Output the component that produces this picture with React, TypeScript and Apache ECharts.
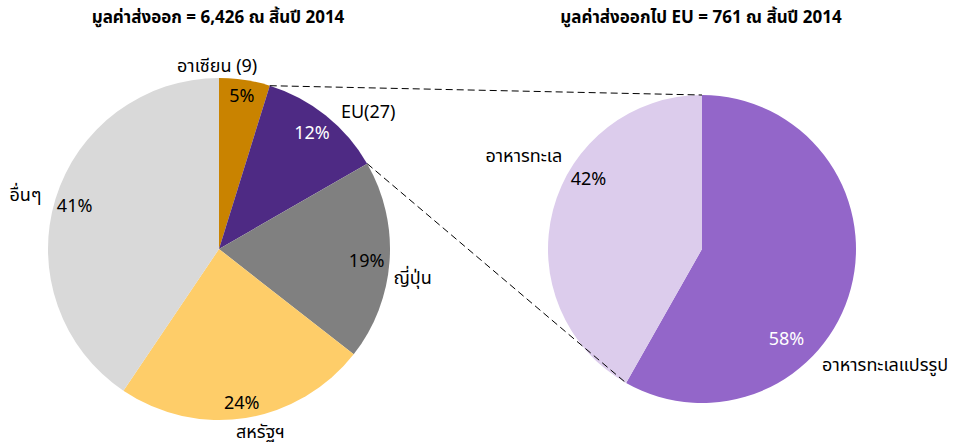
import React, { useEffect, useRef } from 'react';
import * as echarts from 'echarts';

// ---------- data ----------
const exportTitle = 'มูลค่าส่งออก = 6,426 ณ สิ้นปี 2014';
const euTitle = 'มูลค่าส่งออกไป EU = 761 ณ สิ้นปี 2014';

const marketNames = ['อาเซียน (9)', 'EU(27)', 'ญี่ปุ่น', 'สหรัฐฯ', 'อื่นๆ'];
const marketShares = [4.8, 11.9, 18.9, 23.9, 40.6];

const euProductNames = ['อาหารทะเลแปรรูป', 'อาหารทะเล'];
const euProductShares = [58.2, 41.8];

const explodedMarket = 1; // EU slice is broken down in the right pie

// ---------- styles ----------
const FONT = "Tahoma, 'Noto Sans Thai', 'Leelawadee UI', 'Noto Sans', 'DejaVu Sans', sans-serif";
const marketColors = ['#C98300', '#4E2A84', '#808080', '#FECD69', '#D9D9D9'];
const marketPctColors = ['#000', '#fff', '#000', '#000', '#000'];
const productColors = ['#9366C9', '#DCCCEC'];
const productPctColors = ['#fff', '#000'];

const LABEL_SIZE = 18;
const TITLE_SIZE = 17;

const LEFT = { cx: 219, cy: 249, r: 171, pctInner: 127 };
const RIGHT = { cx: 702, cy: 249, r: 154, pctInner: 114 };

// label fine tuning (pixel nudges from automatic placement)
const marketPctNudge = [[0, -2], [-2, 3], [-4, 2], [-1, 4], [1, 2]];
const marketNameNudge = [[-31, 9], [28, 15], [0, 16], [11, -8], [-8, 3]];
const productPctNudge = [[-48, 56], [19, -35]];
const productNameNudge = [[12, 71], [-7, -47]];

const TRANSPARENT = 'rgba(0,0,0,0)';

function pieSeries(
  geo: { cx: number; cy: number; r: number; pctInner: number },
  names: string[],
  values: number[],
  colors: string[],
  pctColors: string[],
  pctNudge: number[][],
  nameNudge: number[][]
) {
  const base = {
    type: 'pie',
    center: [geo.cx, geo.cy],
    startAngle: 90,
    clockwise: true,
    silent: true,
    avoidLabelOverlap: false,
    emphasis: { disabled: true },
    labelLine: { show: false },
  };
  return [
    {
      ...base,
      radius: [0, geo.r],
      z: 1,
      label: { show: false },
      data: names.map((n, i) => ({ name: n, value: values[i], itemStyle: { color: colors[i] } })),
    },
    {
      ...base,
      radius: [geo.pctInner, geo.r],
      z: 3,
      itemStyle: { color: TRANSPARENT },
      label: {
        show: true,
        position: 'inside',
        fontSize: LABEL_SIZE,
        fontFamily: FONT,
        textBorderWidth: 0,
        formatter: (p: any) => `${Math.round(p.value)}%`,
      },
      labelLayout: (p: any) => ({ dx: pctNudge[p.dataIndex][0], dy: pctNudge[p.dataIndex][1] }),
      data: names.map((n, i) => ({
        name: n,
        value: values[i],
        label: { color: pctColors[i] },
      })),
    },
    {
      ...base,
      radius: [geo.r, geo.r + 40],
      z: 3,
      itemStyle: { color: TRANSPARENT },
      label: {
        show: true,
        position: 'inside',
        fontSize: LABEL_SIZE,
        fontFamily: FONT,
        color: '#000',
        textBorderWidth: 0,
        overflow: 'none',
        formatter: (p: any) => p.name,
      },
      labelLayout: (p: any) => ({ dx: nameNudge[p.dataIndex][0], dy: nameNudge[p.dataIndex][1] }),
      data: names.map((n, i) => ({ name: n, value: values[i] })),
    },
  ];
}

function pointAt(geo: { cx: number; cy: number; r: number }, frac: number) {
  const a = frac * Math.PI * 2;
  return [geo.cx + geo.r * Math.sin(a), geo.cy - geo.r * Math.cos(a)];
}

export default function App() {
  const ref = useRef<HTMLDivElement>(null);
  useEffect(() => {
    if (!ref.current) return;
    const chart = echarts.init(ref.current, undefined, { renderer: 'svg' });

    const totalM = marketShares.reduce((a, b) => a + b, 0);
    const startFrac = marketShares.slice(0, explodedMarket).reduce((a, b) => a + b, 0) / totalM;
    const endFrac = startFrac + marketShares[explodedMarket] / totalM;
    const totalP = euProductShares.reduce((a, b) => a + b, 0);
    const firstEnd = euProductShares[0] / totalP;

    const a1 = pointAt(LEFT, startFrac);
    const a2 = pointAt(LEFT, endFrac);
    const b1 = pointAt(RIGHT, 0);
    const b2 = pointAt(RIGHT, firstEnd);

    const lineStyle = { stroke: '#000', lineWidth: 1, lineDash: [7, 4] };

    const titleStyle = (text: string) => ({
      text,
      fontSize: TITLE_SIZE,
      fontWeight: 'bold',
      fontFamily: FONT,
      fill: '#000',
      textAlign: 'center',
      textVerticalAlign: 'middle',
    });

    chart.setOption({
      animation: false,
      textStyle: { fontFamily: FONT },
      series: [
        ...pieSeries(LEFT, marketNames, marketShares, marketColors, marketPctColors, marketPctNudge, marketNameNudge),
        ...pieSeries(RIGHT, euProductNames, euProductShares, productColors, productPctColors, productPctNudge, productNameNudge),
      ],
      graphic: [
        { type: 'text', x: 218, y: 18, z: 10, style: titleStyle(exportTitle) },
        { type: 'text', x: 701, y: 18, z: 10, style: titleStyle(euTitle) },
        {
          type: 'line',
          z: 10,
          shape: { x1: a1[0], y1: a1[1], x2: b1[0], y2: b1[1] },
          style: lineStyle,
        },
        {
          type: 'line',
          z: 10,
          shape: { x1: a2[0], y1: a2[1], x2: b2[0], y2: b2[1] },
          style: lineStyle,
        },
      ],
    });
    return () => chart.dispose();
  }, []);

  return (
    <div
      ref={ref}
      style={{ position: 'fixed', left: 0, top: 0, width: 956, height: 446, background: '#fff' }}
    />
  );
}
